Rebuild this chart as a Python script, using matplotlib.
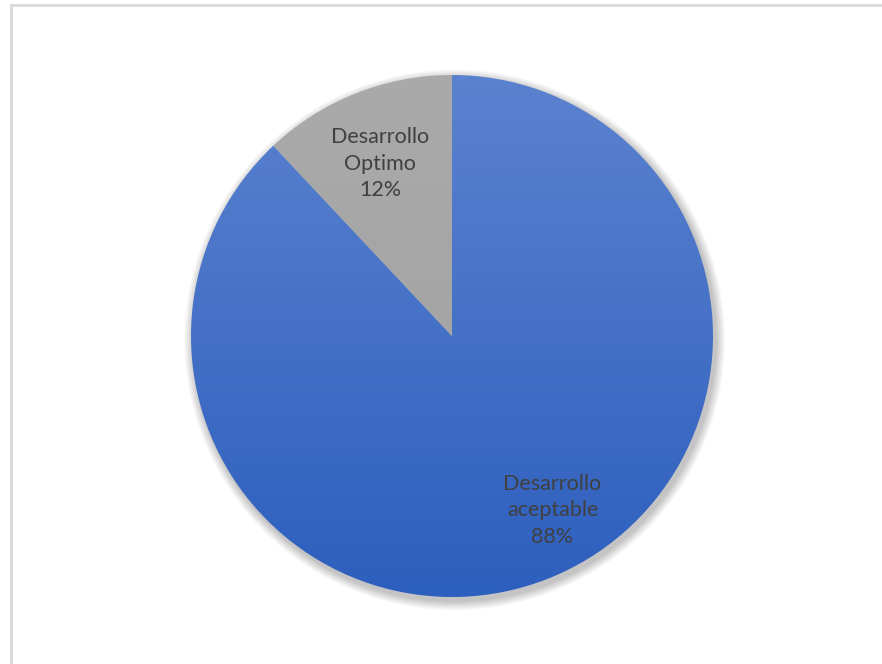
import numpy as np
import matplotlib.pyplot as plt
from matplotlib.patches import Circle
from matplotlib.colors import LinearSegmentedColormap
from matplotlib.lines import Line2D

# data
categories = ["Desarrollo aceptable", "Desarrollo Optimo"]
label_lines = ["Desarrollo\naceptable", "Desarrollo\nOptimo"]
shares = [88, 12]

# style
top_colors = ["#5B82CF", "#AAAAAA"]
bottom_colors = ["#2D5FBE", "#A0A0A0"]
label_offsets = [(0.385, -0.668), (-0.275, 0.66)]   # where Excel put the labels
text_color = "#404040"

W, H = 882, 664
fig = plt.figure(figsize=(W / 100, H / 100), dpi=100)
fig.patch.set_facecolor("white")

cx, cy, r = 452, 336, 261
ax = fig.add_axes([(cx - r) / W, (H - cy - r) / H, 2 * r / W, 2 * r / H])
ax.set_xlim(-1, 1)
ax.set_ylim(-1, 1)
ax.set_aspect("equal")
ax.axis("off")

# soft shadow under the pie, mostly to the lower right
for k in range(12):
    rad = 1.0 + 0.003 * (12 - k)
    sh = Circle((0.01, -0.015), rad, color="black", alpha=0.018, lw=0,
                clip_on=False, zorder=0)
    ax.add_patch(sh)

wedges, _ = ax.pie(shares, startangle=90, counterclock=False, radius=1,
                   wedgeprops=dict(linewidth=0))

# fill each wedge with a vertical gradient
grad = np.linspace(0, 1, 256).reshape(-1, 1)
for w, c0, c1 in zip(wedges, top_colors, bottom_colors):
    w.set_facecolor("none")
    cmap = LinearSegmentedColormap.from_list("g", [c0, c1])
    im = ax.imshow(grad, cmap=cmap, extent=(-1, 1, -1, 1), origin="upper",
                   aspect="auto", zorder=1, interpolation="bilinear")
    im.set_clip_path(w)

ax.set_xlim(-1, 1)
ax.set_ylim(-1, 1)

for lab, pct, (dx, dy) in zip(label_lines, shares, label_offsets):
    ax.text(dx, dy, f"{lab}\n{pct}%", ha="center", va="center",
            fontsize=15.5, color=text_color, family="Lato", linespacing=1.42,
            zorder=3)

# chart area border (top and left visible)
fig.add_artist(Line2D([10.5 / W, 10.5 / W], [0, 1 - 5 / H], color="#D9D9D9", lw=2))
fig.add_artist(Line2D([10.5 / W, 1], [1 - 5 / H, 1 - 5 / H], color="#D9D9D9", lw=2))

fig.savefig("out.png", dpi=100)
